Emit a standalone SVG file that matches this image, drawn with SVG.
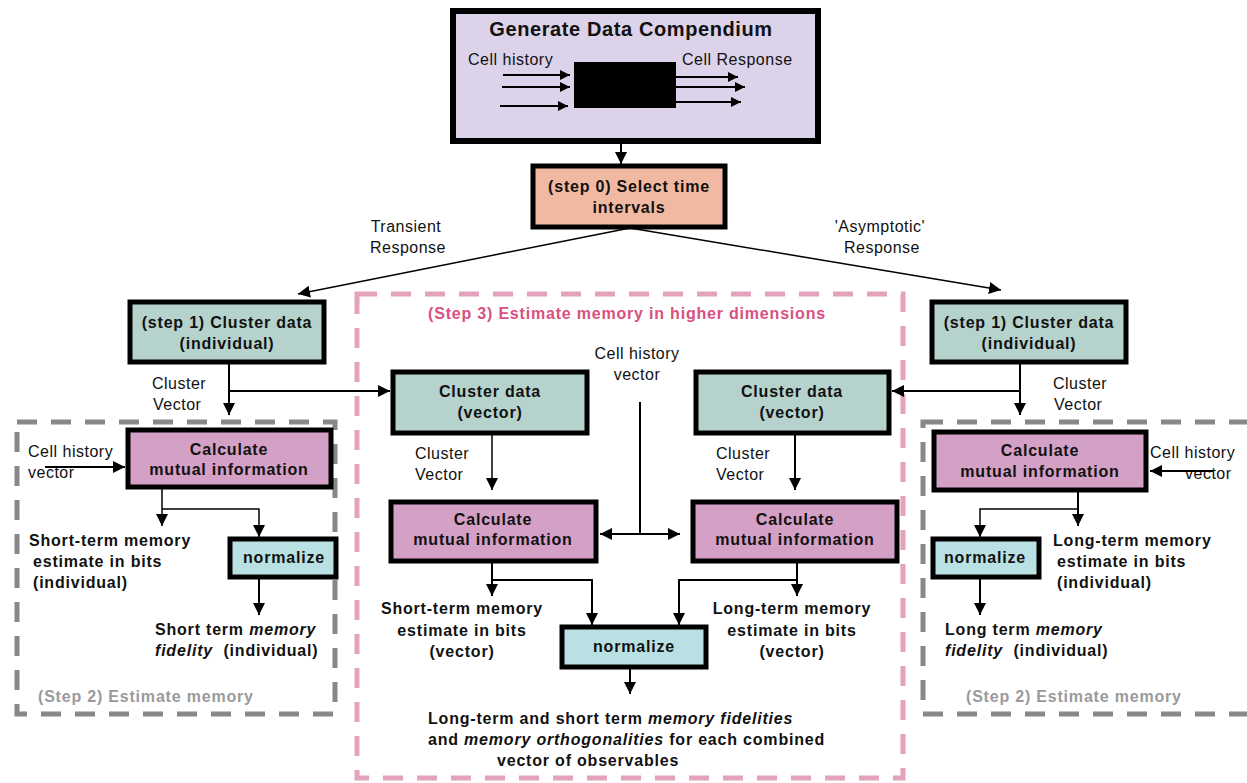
<svg xmlns="http://www.w3.org/2000/svg" width="1247" height="783" viewBox="0 0 1247 783">
<defs>
<marker id="ah2" viewBox="0 0 10 10" refX="10" refY="5" markerWidth="12" markerHeight="12" orient="auto-start-reverse" markerUnits="userSpaceOnUse">
<path d="M0,0 L10,5 L0,10 z" fill="#000"/>
</marker>
<marker id="ahs" viewBox="0 0 10 10" refX="10" refY="5" markerWidth="10" markerHeight="10" orient="auto" markerUnits="userSpaceOnUse">
<path d="M0,0 L10,5 L0,10 z" fill="#000"/>
</marker>
</defs>
<style>
text{font-family:"Liberation Sans",Arial,sans-serif;fill:#111}
.b{font-weight:bold;font-size:16px;letter-spacing:0.8px}
.n{font-size:16px;letter-spacing:0.5px}
.t{font-weight:bold;font-size:20px;letter-spacing:0.6px}
.pre{white-space:pre}
.box{stroke:#000;stroke-width:5}
.c{text-anchor:middle}
.ln{stroke:#000;stroke-width:2;fill:none}
.ln1{stroke:#000;stroke-width:1.5;fill:none}
.pk{fill:none;stroke:#e4a2bd;stroke-width:5;stroke-dasharray:20 14}
.gr{fill:none;stroke:#888;stroke-width:5;stroke-dasharray:20 14}
.pkt{fill:#d9507f;font-weight:bold;font-size:16px;letter-spacing:0.8px}
.grt{fill:#9a9a9a;font-weight:bold;font-size:16px;letter-spacing:0.8px}
</style>
<rect width="1247" height="783" fill="#fff"/>

<g id="step3-group">
<rect class="pk" x="357" y="294" width="546" height="484"/>
<text class="pkt c" x="627" y="319">(Step 3) Estimate memory in higher dimensions</text>
</g>
<g id="step2-left-group">
<rect class="gr" x="17" y="422" width="318" height="292"/>
<text class="grt" x="38" y="702">(Step 2) Estimate memory</text>
</g>
<g id="step2-right-group">
<rect class="gr" x="923" y="422" width="340" height="292"/>
<text class="grt" x="966" y="702">(Step 2) Estimate memory</text>
</g>

<g id="generate">
<rect x="453" y="11" width="365" height="130" fill="#dcd2ea" stroke="#000" stroke-width="6"/>
<text class="t c" x="631" y="36">Generate Data Compendium</text>
<text class="n" x="468" y="65">Cell history</text>
<text class="n" x="682" y="65">Cell Response</text>
<rect x="574" y="62" width="102" height="46" fill="#000"/>
<line class="ln" x1="503" y1="75" x2="570" y2="75" marker-end="url(#ahs)"/>
<line class="ln" x1="502" y1="87" x2="570" y2="87" marker-end="url(#ahs)"/>
<line class="ln" x1="500" y1="106" x2="568" y2="106" marker-end="url(#ahs)"/>
<line class="ln" x1="676" y1="77" x2="738" y2="77" marker-end="url(#ahs)"/>
<line class="ln" x1="676" y1="87" x2="745" y2="87" marker-end="url(#ahs)"/>
<line class="ln" x1="676" y1="102" x2="741" y2="102" marker-end="url(#ahs)"/>
</g>

<g id="step0">
<rect class="box" x="533" y="166" width="192" height="61" fill="#f2b9a2"/>
<text class="b c" x="629" y="192">(step 0) Select time</text>
<text class="b c" x="629" y="213">intervals</text>
</g>

<g id="step1-left">
<rect class="box" x="130" y="302" width="194" height="60" fill="#b5d3cc"/>
<text class="b c" x="227" y="328">(step 1) Cluster data</text>
<text class="b c" x="227" y="349">(individual)</text>
</g>
<g id="step1-right">
<rect class="box" x="932" y="302" width="194" height="60" fill="#b5d3cc"/>
<text class="b c" x="1029" y="328">(step 1) Cluster data</text>
<text class="b c" x="1029" y="349">(individual)</text>
</g>

<g id="mi-left">
<rect class="box" x="128" y="430" width="203" height="57" fill="#d5a0c5"/>
<text class="b c" x="229" y="455">Calculate</text>
<text class="b c" x="229" y="475">mutual information</text>
</g>
<g id="mi-right">
<rect class="box" x="934" y="432" width="212" height="58" fill="#d5a0c5"/>
<text class="b c" x="1040" y="456">Calculate</text>
<text class="b c" x="1040" y="477">mutual information</text>
</g>

<g id="norm-left">
<rect class="box" x="230" y="539" width="106" height="38" fill="#b9e1e3"/>
<text class="b c" x="284" y="563">normalize</text>
</g>
<g id="norm-right">
<rect class="box" x="933" y="539" width="106" height="38" fill="#b9e1e3"/>
<text class="b c" x="985" y="563">normalize</text>
</g>

<g id="cluster-vec-left">
<rect class="box" x="393" y="372" width="194" height="61" fill="#b5d3cc"/>
<text class="b c" x="490" y="397">Cluster data</text>
<text class="b c" x="490" y="418">(vector)</text>
</g>
<g id="cluster-vec-right">
<rect class="box" x="696" y="372" width="193" height="61" fill="#b5d3cc"/>
<text class="b c" x="792" y="397">Cluster data</text>
<text class="b c" x="792" y="418">(vector)</text>
</g>
<g id="mi-vec-left">
<rect class="box" x="391" y="502" width="205" height="59" fill="#d5a0c5"/>
<text class="b c" x="493" y="525">Calculate</text>
<text class="b c" x="493" y="545">mutual information</text>
</g>
<g id="mi-vec-right">
<rect class="box" x="693" y="502" width="204" height="59" fill="#d5a0c5"/>
<text class="b c" x="795" y="525">Calculate</text>
<text class="b c" x="795" y="545">mutual information</text>
</g>
<g id="norm-center">
<rect class="box" x="562" y="627" width="144" height="40" fill="#b9e1e3"/>
<text class="b c" x="634" y="652">normalize</text>
</g>

<g id="labels">
<text class="n c" x="406" y="232">Transient</text>
<text class="n c" x="408" y="253">Response</text>
<text class="n c" x="880" y="232">'Asymptotic'</text>
<text class="n c" x="882" y="253">Response</text>
<text class="n" x="152" y="389">Cluster</text>
<text class="n" x="153" y="410">Vector</text>
<text class="n" x="1053" y="389">Cluster</text>
<text class="n" x="1054" y="410">Vector</text>
<text class="n" x="28" y="457">Cell history</text>
<text class="n" x="28" y="478">vector</text>
<text class="n" x="1150" y="458">Cell history</text>
<text class="n" x="1185" y="479">vector</text>
<text class="n c" x="637" y="359">Cell history</text>
<text class="n c" x="637" y="380">vector</text>
<text class="n" x="415" y="459">Cluster</text>
<text class="n" x="415" y="480">Vector</text>
<text class="n" x="716" y="459">Cluster</text>
<text class="n" x="716" y="480">Vector</text>
<text class="b" x="29" y="546">Short-term memory</text>
<text class="b" x="33" y="567">estimate in bits</text>
<text class="b" x="33" y="588">(individual)</text>
<text class="b" x="155" y="635">Short term <tspan font-style="italic">memory</tspan></text>
<text class="b pre" x="155" y="656"><tspan font-style="italic">fidelity</tspan>  (individual)</text>
<text class="b" x="1053" y="546">Long-term memory</text>
<text class="b" x="1057" y="567">estimate in bits</text>
<text class="b" x="1057" y="588">(individual)</text>
<text class="b" x="945" y="635">Long term <tspan font-style="italic">memory</tspan></text>
<text class="b pre" x="945" y="656"><tspan font-style="italic">fidelity</tspan>  (individual)</text>
<text class="b c" x="462" y="614">Short-term memory</text>
<text class="b c" x="462" y="636">estimate in bits</text>
<text class="b c" x="462" y="657">(vector)</text>
<text class="b c" x="792" y="614">Long-term memory</text>
<text class="b c" x="792" y="636">estimate in bits</text>
<text class="b c" x="792" y="657">(vector)</text>
<text class="b" x="428" y="724">Long-term and short term <tspan font-style="italic">memory fidelities</tspan></text>
<text class="b" x="428" y="745">and <tspan font-style="italic">memory orthogonalities</tspan> for each combined</text>
<text class="b" x="497" y="766">vector of observables</text>
</g>

<g id="connectors">
<line class="ln" x1="621" y1="141" x2="621" y2="164" marker-end="url(#ah2)"/>
<polyline class="ln1" points="630,228 298,294" marker-end="url(#ah2)"/>
<polyline class="ln1" points="630,228 1001,290" marker-end="url(#ah2)"/>
<line class="ln" x1="229" y1="364" x2="229" y2="415" marker-end="url(#ah2)"/>
<line class="ln" x1="229" y1="391" x2="390" y2="391" marker-end="url(#ah2)"/>
<line class="ln" x1="1020" y1="364" x2="1020" y2="415" marker-end="url(#ah2)"/>
<line class="ln" x1="1020" y1="391" x2="892" y2="391" marker-end="url(#ah2)"/>
<line class="ln" x1="45" y1="467" x2="125" y2="467" marker-end="url(#ah2)"/>
<line class="ln" x1="1213" y1="471" x2="1150" y2="471" marker-end="url(#ah2)"/>
<line class="ln1" x1="162" y1="489" x2="162" y2="526" marker-end="url(#ah2)"/>
<polyline class="ln1" points="162,509 259,509 259,537" marker-end="url(#ah2)"/>
<line class="ln" x1="259" y1="579" x2="259" y2="615" marker-end="url(#ah2)"/>
<line class="ln" x1="1078" y1="492" x2="1078" y2="526" marker-end="url(#ah2)"/>
<polyline class="ln1" points="1078,509 980,509 980,537" marker-end="url(#ah2)"/>
<line class="ln" x1="980" y1="579" x2="980" y2="615" marker-end="url(#ah2)"/>
<line class="ln1" x1="492" y1="434" x2="492" y2="490" marker-end="url(#ah2)"/>
<line class="ln" x1="795" y1="434" x2="795" y2="490" marker-end="url(#ah2)"/>
<line class="ln" x1="640" y1="402" x2="640" y2="534"/>
<line class="ln" x1="600" y1="534" x2="680" y2="534" marker-start="url(#ah2)" marker-end="url(#ah2)"/>
<line class="ln" x1="492" y1="562" x2="492" y2="596" marker-end="url(#ah2)"/>
<polyline class="ln" points="492,580 592,580 592,625" marker-end="url(#ah2)"/>
<line class="ln" x1="797" y1="562" x2="797" y2="596" marker-end="url(#ah2)"/>
<polyline class="ln" points="797,580 679,580 679,625" marker-end="url(#ah2)"/>
<line class="ln" x1="630" y1="668" x2="630" y2="694" marker-end="url(#ah2)"/>
</g>
</svg>
